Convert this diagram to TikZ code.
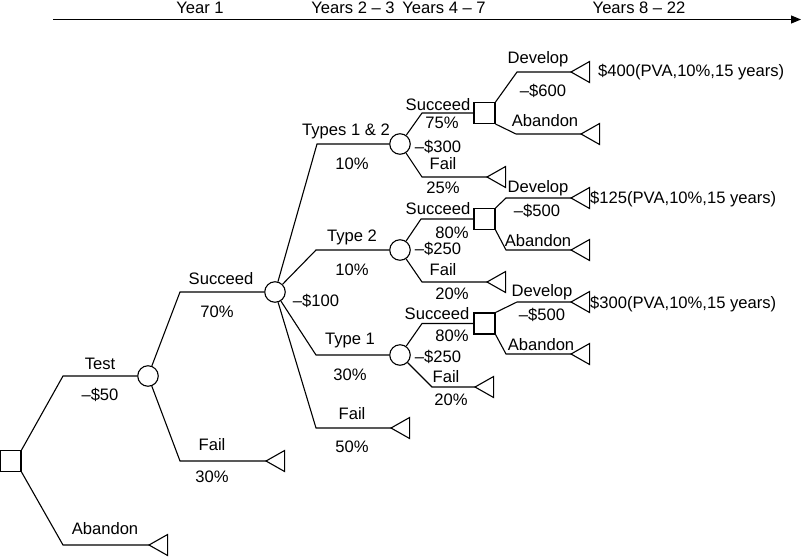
\documentclass[tikz,border=0pt]{standalone}
\usepackage{fontspec}
\setmainfont{Liberation Sans}
\usetikzlibrary{arrows.meta}
\tikzset{
  term/.pic={\draw[line width=1.1pt] (0,0) -- (18.6,-10.5) -- (18.6,10.5) -- cycle;},
}
\begin{document}
\begin{tikzpicture}[x=1pt,y=-1pt,
  every node/.style={font=\fontsize{16.6}{19}\selectfont, inner sep=0pt},
  ln/.style={line width=1.1pt},
  dec/.style={draw, line width=1.1pt, rectangle, minimum size=21pt},
  chance/.style={draw, line width=1.1pt, circle, minimum size=20.5pt},
  lab/.style={anchor=center}
]
\useasboundingbox (0,0) rectangle (802,557);

% timeline
\coordinate (tl0) at (53,19.5);
\coordinate (tl1) at (801,19.5);
\draw[ln,-{Triangle[length=10pt,width=8pt]}] (tl0) -- (tl1);
\node[lab] (y1) at (200,7.5) {Year 1};
\node[lab] (y2) at (353,7.5) {Years 2 – 3};
\node[lab] (y3) at (444,7.5) {Years 4 – 7};
\node[lab] (y4) at (639,7.5) {Years 8 – 22};

% decision and chance nodes
\node[dec] (R) at (10.5,461) {};
\node[chance] (C1) at (148,376) {};
\node[chance] (C2) at (275,292) {};
\node[chance] (C3) at (400,144) {};
\node[chance] (C4) at (400,250) {};
\node[chance] (C5) at (400,355) {};
\node[dec] (S3) at (484.5,113) {};
\node[dec] (S4) at (484.5,219) {};
\node[dec] (S5) at (484.5,323.5) {};

% terminal tips
\coordinate (T0) at (149,545);
\coordinate (T1) at (266,461);
\coordinate (T2) at (391,428);
\coordinate (T3) at (487,177);
\coordinate (T4) at (487,282);
\coordinate (T5) at (475,387);
\coordinate (T6) at (571,72);
\coordinate (T7) at (581,134);
\coordinate (T8) at (571,198);
\coordinate (T9) at (571,250);
\coordinate (T10) at (571,302);
\coordinate (T11) at (571,354);
\foreach \t in {T0,T1,T2,T3,T4,T5,T6,T7,T8,T9,T10,T11} {\pic at (\t) {term};}

% branches
\draw[ln] (R.north east) -- (63,376) -- (C1);
\draw[ln] (R.south east) -- (63,545) -- (T0);
\draw[ln] (C1) -- (180,292) -- (C2);
\draw[ln] (C1) -- (180,461) -- (T1);
\draw[ln] (C2) -- (317,144) -- (C3);
\draw[ln] (C2) -- (316,250) -- (C4);
\draw[ln] (C2) -- (316,355) -- (C5);
\draw[ln] (C2) -- (316,428) -- (T2);
\draw[ln] (C3) -- (422,113) -- (S3);
\draw[ln] (C3) -- (422,177) -- (T3);
\draw[ln] (C4) -- (421,219) -- (S4);
\draw[ln] (C4) -- (422,282) -- (T4);
\draw[ln] (C5) -- (422,323.5) -- (S5);
\draw[ln] (C5) -- (432,387) -- (T5);
\draw[ln] (S3.north east) -- (517,72) -- (T6);
\draw[ln] (S3.south east) -- (516,134) -- (T7);
\draw[ln] (S4.north east) -- (506,198) -- (T8);
\draw[ln] (S4.south east) -- (506,250) -- (T9);
\draw[ln] (S5.north east) -- (517,302) -- (T10);
\draw[ln] (S5.south east) -- (506,354) -- (T11);

% labels
\node[lab] (l1) at (100,364) {Test};
\node[lab] (l2) at (100,395) {–\$50};
\node[lab] (l3) at (105,529) {Abandon};
\node[lab] (l4) at (221,279) {Succeed};
\node[lab] (l5) at (217,312) {70\%};
\node[lab] (l6) at (212,445) {Fail};
\node[lab] (l7) at (212,477) {30\%};
\node[lab] (l8) at (316,301) {–\$100};
\node[lab] (l9) at (346,131) {Types 1 \& 2};
\node[lab] (l10) at (352,164) {10\%};
\node[lab] (l11) at (352,237) {Type 2};
\node[lab] (l12) at (352,270) {10\%};
\node[lab] (l13) at (350,341) {Type 1};
\node[lab] (l14) at (350,375) {30\%};
\node[lab] (l15) at (352,414) {Fail};
\node[lab] (l16) at (352,447) {50\%};
% types 1 & 2 subtree
\node[lab] (l17) at (438,105) {Succeed};
\node[lab] (l18) at (442,123) {75\%};
\node[lab] (l19) at (438,147) {–\$300};
\node[lab] (l20) at (443,164) {Fail};
\node[lab] (l21) at (443,188) {25\%};
\node[lab] (l22) at (538,59) {Develop};
\node[lab] (l23) at (543,91) {–\$600};
\node[lab,anchor=west] (l24) at (598,72) {\$400(PVA,10\%,15 years)};
\node[lab] (l25) at (545,121) {Abandon};
% type 2 subtree
\node[lab] (l26) at (438,209) {Succeed};
\node[lab] (l27) at (452,233) {80\%};
\node[lab] (l28) at (438,249) {–\$250};
\node[lab] (l29) at (443,270) {Fail};
\node[lab] (l30) at (452,294) {20\%};
\node[lab] (l31) at (538,188) {Develop};
\node[lab] (l32) at (537,211) {–\$500};
\node[lab,anchor=west] (l33) at (590,199) {\$125(PVA,10\%,15 years)};
\node[lab] (l34) at (538,241) {Abandon};
% type 1 subtree
\node[lab] (l35) at (437,314) {Succeed};
\node[lab] (l36) at (452,336) {80\%};
\node[lab] (l37) at (438,357) {–\$250};
\node[lab] (l38) at (446,377) {Fail};
\node[lab] (l39) at (451,400) {20\%};
\node[lab] (l40) at (542,292) {Develop};
\node[lab] (l41) at (542,315) {–\$500};
\node[lab,anchor=west] (l42) at (590,304) {\$300(PVA,10\%,15 years)};
\node[lab] (l43) at (541,345) {Abandon};
\end{tikzpicture}
\end{document}
